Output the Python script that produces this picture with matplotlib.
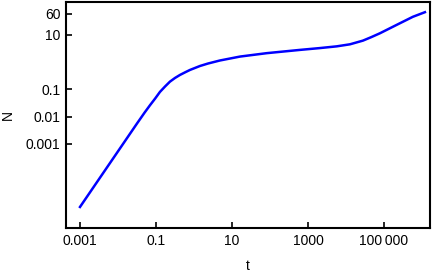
import matplotlib
matplotlib.use("Agg")
import matplotlib.pyplot as plt
from matplotlib.ticker import FixedLocator, FixedFormatter, NullLocator

plt.rcParams['font.family'] = ['Liberation Sans', 'DejaVu Sans']

# curve (log10 values)
log_t = [-3.0, -2.5, -2.0, -1.5, -1.3, -1.158, -1.02, -0.895, -0.76, -0.632,
         -0.5, -0.368, -0.23, -0.105, 0.158, 0.368, 0.684, 1.21, 1.913,
         2.789, 3.3, 3.755, 4.105, 4.447, 4.67, 4.895, 5.334, 5.763, 6.079]
log_N = [-5.31, -4.29, -3.27, -2.25, -1.85, -1.58, -1.33, -1.09, -0.89, -0.714,
         -0.58, -0.468, -0.37, -0.285, -0.14, -0.05, 0.062, 0.205, 0.33,
         0.45, 0.515, 0.58, 0.655, 0.79, 0.92, 1.06, 1.367, 1.665, 1.833]

t = [10 ** v for v in log_t]
N = [10 ** v for v in log_N]

xticks = [1e-3, 1e-1, 1e1, 1e3, 1e5]
xlabels = ["0.001", "0.1", "10", "1000", "100\u2009000"]
yticks = [1e-3, 1e-2, 1e-1, 10, 60]
ylabels = ["0.001", "0.01", "0.1", "10", "60"]

fig = plt.figure(figsize=(4.36, 2.73), dpi=100)
ax = fig.add_axes([0.1514, 0.165, 0.8346, 0.828])
ax.plot(t, N, color="#0000ff", lw=1.8, solid_joinstyle="round")

ax.set_xscale("log")
ax.set_yscale("log")
ax.set_xlim(10 ** -3.368, 10 ** 6.21)
ax.set_ylim(10 ** -6.08, 10 ** 2.21)

ax.xaxis.set_major_locator(FixedLocator(xticks))
ax.xaxis.set_major_formatter(FixedFormatter(xlabels))
ax.xaxis.set_minor_locator(NullLocator())
ax.yaxis.set_major_locator(FixedLocator(yticks))
ax.yaxis.set_major_formatter(FixedFormatter(ylabels))
ax.yaxis.set_minor_locator(NullLocator())
ax.tick_params(direction="in", length=4, width=1.2, labelsize=10, pad=4)

for s in ax.spines.values():
    s.set_linewidth(1.5)

ax.set_xlabel("t", fontsize=10, labelpad=8)
ax.set_ylabel("N", fontsize=10, labelpad=8)

fig.savefig("out.png", dpi=100)
